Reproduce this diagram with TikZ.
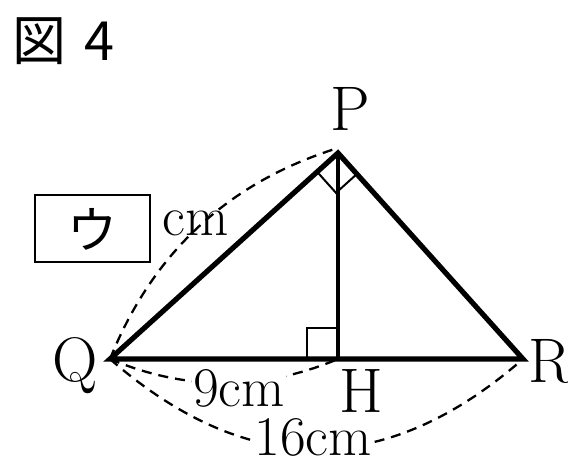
\documentclass[tikz,border=0pt]{standalone}
\usepackage{fontspec}
\newfontfamily\cjk{Noto Sans CJK JP}
\usetikzlibrary{calc}
\begin{document}
\begin{tikzpicture}[x=0.5pt,y=-0.5pt,
  tri/.style={line width=2.6pt,line join=miter},
  alt/.style={line width=2.3pt},
  rmark/.style={line width=1pt},
  dimline/.style={line width=1.15pt,dash pattern=on 5pt off 3.5pt},
  letter/.style={font=\fontsize{31.5}{36}\selectfont,inner sep=0pt},
  meas/.style={font=\fontsize{28}{32}\selectfont,inner sep=0.5pt,fill=white},
  title/.style={font=\cjk\fontsize{27}{32}\selectfont,inner sep=0pt}]
\useasboundingbox (0,0) rectangle (568,457);
\fill[white] (0,0) rectangle (568,457);
% vertices
\coordinate (Q) at (110,359);
\coordinate (H) at (338,359);
\coordinate (R) at (523,359);
\coordinate (P) at (338,153);
\coordinate (Pt) at (338,148);
% title
\node[title] (zu) at (39,41) {図};
\node[title] (four) at (99,41) {4};
% triangle
\draw[tri] (Q) -- (P) -- (R) -- cycle;
\draw[alt] (P) -- (H);
% right angle at H
\draw[rmark] ($(H)+(-31,0)$) -- ($(H)+(-31,-31)$) -- ($(H)+(0,-31)$);
% right angle at P
\coordinate (pq) at ($(P)!0.0915!(Q)$);
\coordinate (pr) at ($(P)!0.102!(R)$);
\draw[rmark] (pq) -- ($(pq)+(pr)-(P)$) -- (pr);
% dashed dimension arcs
\draw[dimline] (Q) .. controls (153,252) and (229,182) .. (Pt);
\draw[dimline] (Q) .. controls (186,391) and (262,391) .. (H);
\draw[dimline] (Q) .. controls (247.7,479) and (385.3,479) .. (R);
% labels
\node[letter,anchor=base] (lP) at (350,130) {P};
\node[letter,anchor=base] (lQ) at (75,381) {Q};
\node[letter,anchor=base] (lR) at (550,382) {R};
\node[letter,anchor=base] (lH) at (361,412) {H};
\node[meas,anchor=base] (l9) at (239,406) {9cm};
\node[meas,anchor=base] (l16) at (313,455) {16cm};
% box with ウ
\node[draw,line width=1pt,minimum width=57.5pt,minimum height=33.5pt,inner sep=0pt] (box) at (92.5,228.5) {};
\node[font=\cjk\fontsize{25}{28}\selectfont,inner sep=0pt] (u) at (92,229) {ウ};
\node[meas,fill=none,anchor=base west,inner sep=0pt] (lcm) at (162,235) {cm};
\end{tikzpicture}
\end{document}
